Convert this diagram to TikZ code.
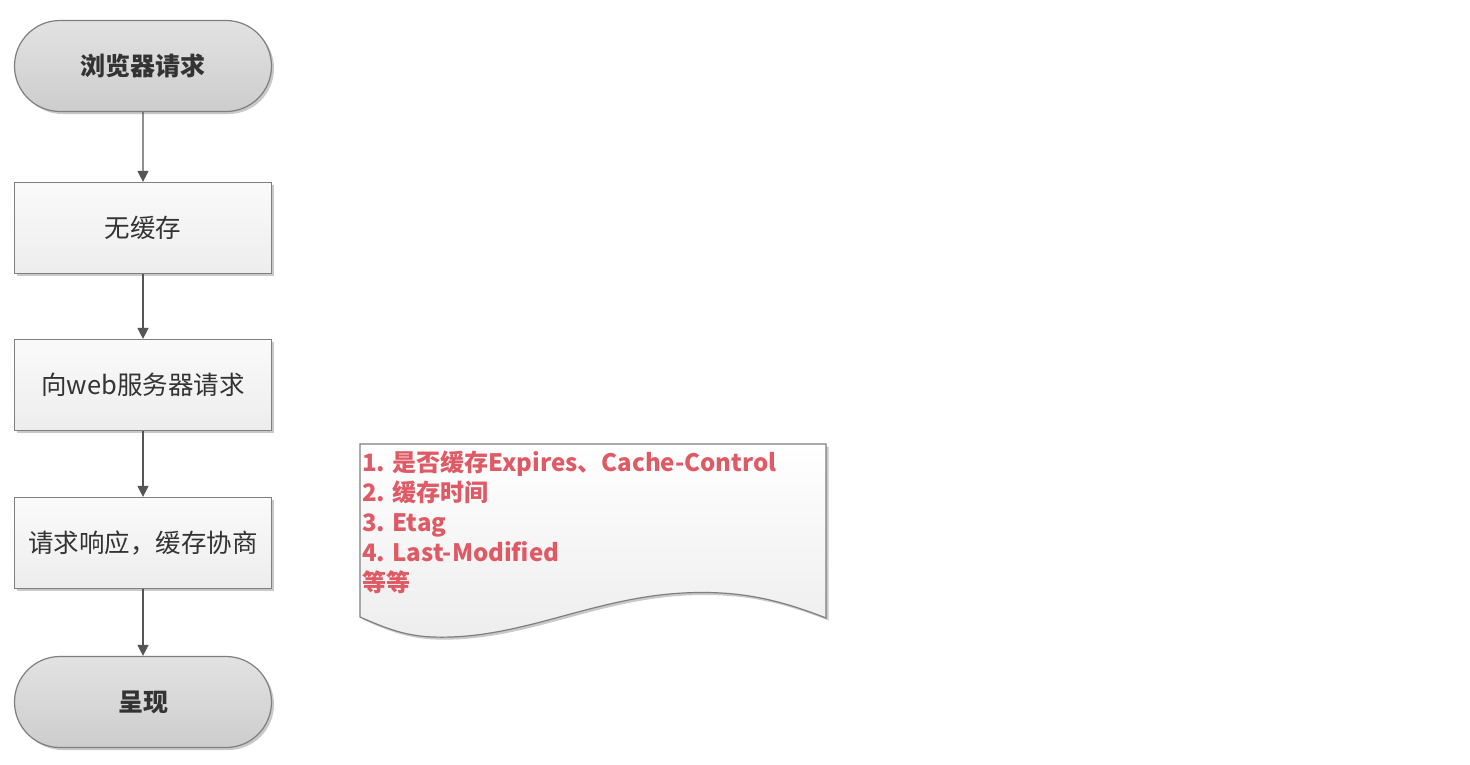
\documentclass[tikz,border=0pt]{standalone}
\usepackage{fontspec}
\setmainfont{Noto Sans CJK SC}
\usetikzlibrary{shapes.misc,arrows.meta,shadows}
\definecolor{txtgray}{HTML}{333333}
\definecolor{edgegray}{HTML}{7F7F7F}
\definecolor{termtop}{HTML}{E2E2E2}
\definecolor{termbot}{HTML}{CDCDCD}
\definecolor{boxtop}{HTML}{FAFAFA}
\definecolor{boxbot}{HTML}{EDEDED}
\definecolor{arrowgray}{HTML}{555555}
\definecolor{notered}{HTML}{DE5B66}
\tikzset{
  myshadow/.style={drop shadow={shadow xshift=2.5pt,shadow yshift=-2.5pt,opacity=0.35,fill=black!60}},
  terminal/.style={rounded rectangle, draw=edgegray, line width=1.2pt, top color=termtop, bottom color=termbot,
    minimum width=257pt, minimum height=91pt, inner sep=0pt, text=txtgray, font=\fontsize{25}{28}\selectfont\bfseries, myshadow},
  procbox/.style={rectangle, draw=edgegray, line width=1.2pt, top color=boxtop, bottom color=boxbot,
    minimum width=257pt, minimum height=91pt, inner sep=0pt, text=txtgray, font=\fontsize{25.5}{28}\selectfont, myshadow},
  flow/.style={draw=arrowgray, line width=1.3pt, -{Triangle[length=11pt,width=11pt]}},
  notetext/.style={text=notered, font=\fontsize{24}{30}\selectfont\bfseries, align=left, inner sep=0pt, anchor=north west}
}
\begin{document}
\begin{tikzpicture}[x=1pt,y=-1pt]
\useasboundingbox (0,0) rectangle (1470,764);
\fill[white] (0,0) rectangle (1470,764);

\node[terminal] (start) at (143,66) {浏览器请求};
\node[procbox] (nocache) at (143,228) {无缓存};
\node[procbox] (req) at (143,385) {向web服务器请求};
\node[procbox] (resp) at (143,543) {请求响应，缓存协商};
\node[terminal] (show) at (143,702) {呈现};

\draw[flow] (start) -- (nocache);
\draw[flow] (nocache) -- (req);
\draw[flow] (req) -- (resp);
\draw[flow] (resp) -- (show);

\draw[draw=edgegray, line width=1.2pt, top color=white, bottom color=boxbot, myshadow]
  (360,444) -- (826,444) -- (826,618)
  .. controls (780,600) and (740,590) .. (683,593)
  .. controls (590,598) and (520,640) .. (433,637)
  .. controls (405,636) and (385,628) .. (360,617) -- cycle;

\node[notetext] (note) at (362,451) {1. 是否缓存Expires、Cache-Control\\2. 缓存时间\\3. Etag\\4. Last-Modified\\等等};
\end{tikzpicture}
\end{document}
